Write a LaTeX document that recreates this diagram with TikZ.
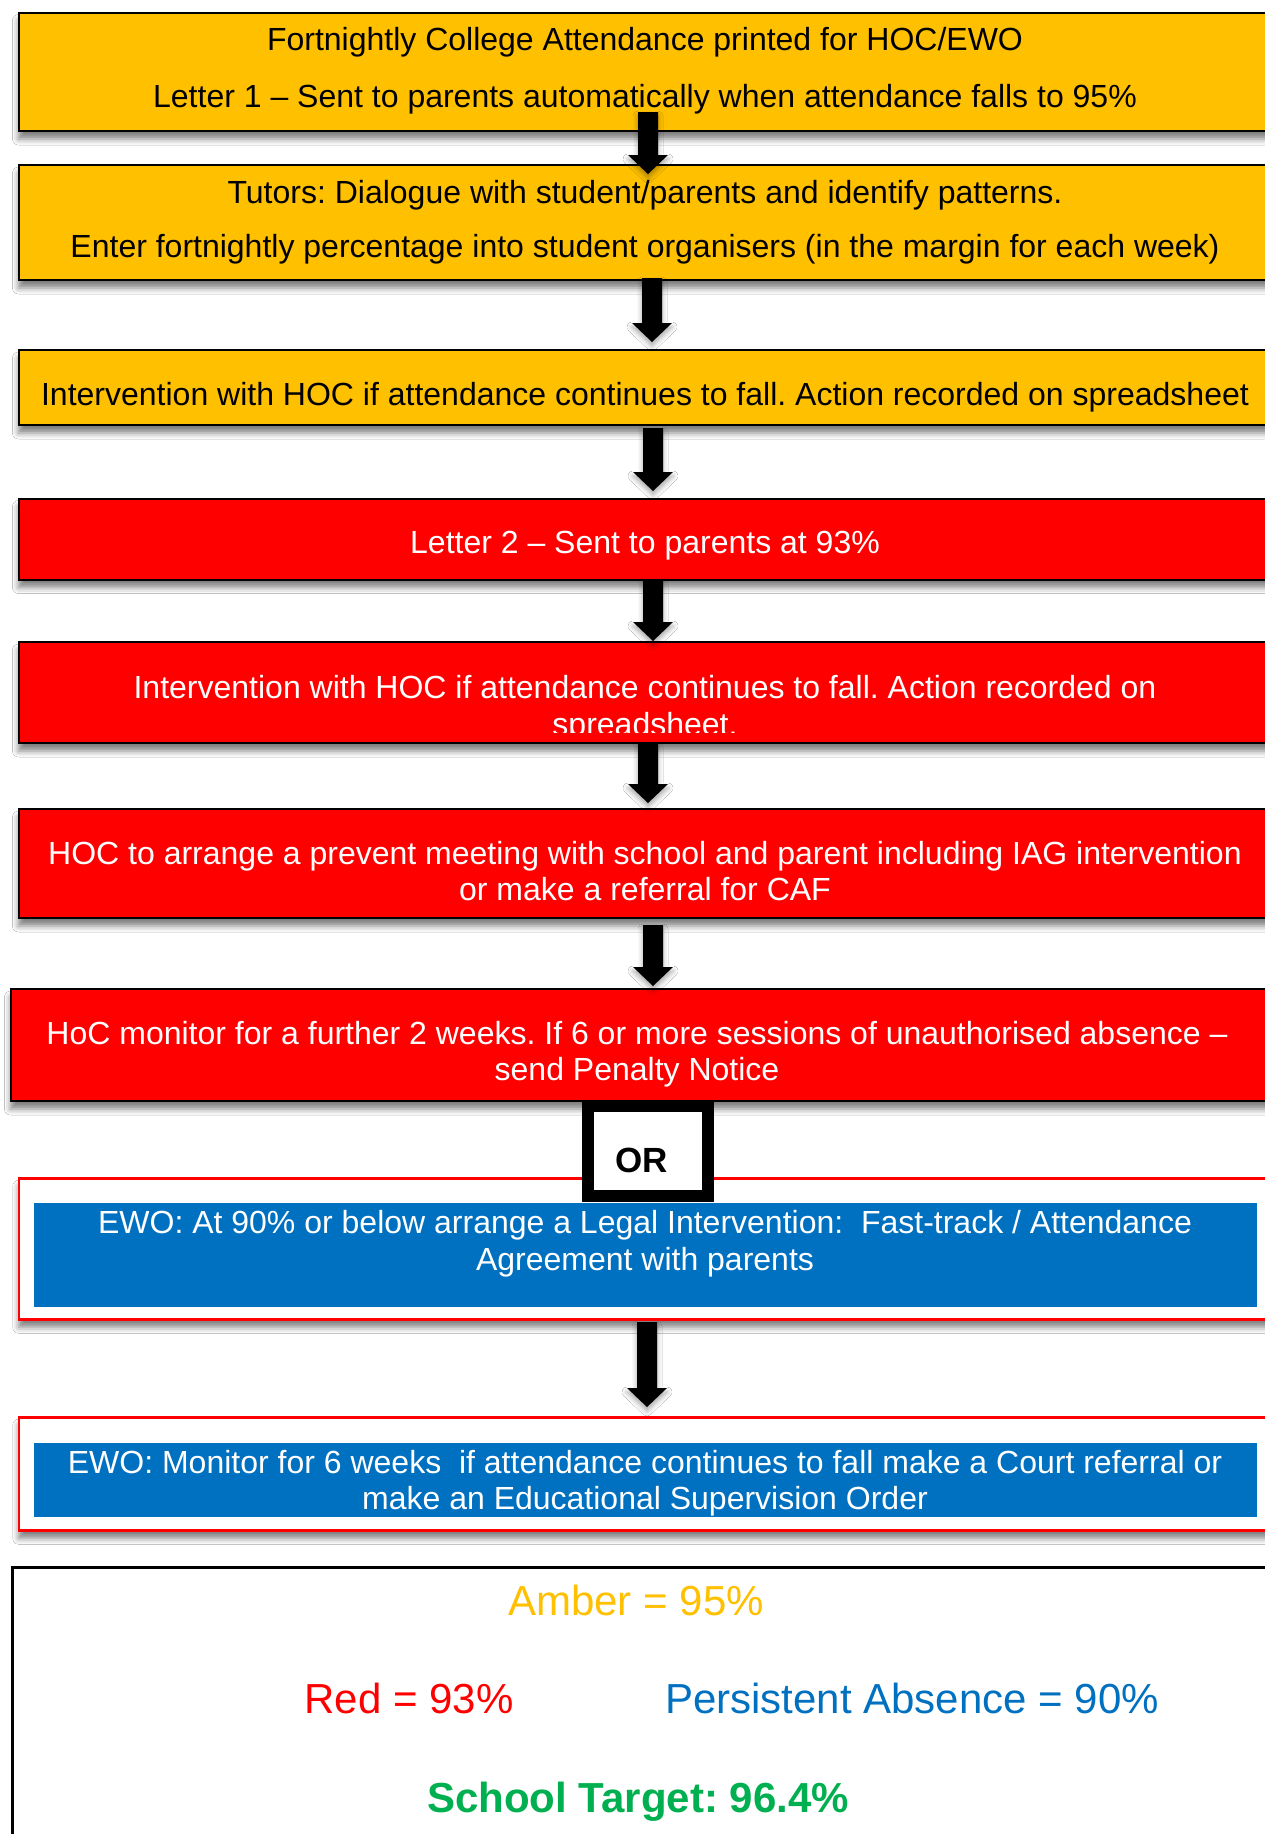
\documentclass[tikz,border=0pt]{standalone}
\usepackage{fontspec}
\setmainfont{Liberation Sans}
\usetikzlibrary{calc,shadows.blur}
\definecolor{amber}{HTML}{FFC000}
\definecolor{redbox}{HTML}{FF0000}
\definecolor{ewoblue}{HTML}{0070C0}
\definecolor{tgreen}{HTML}{00B050}
\newcommand\flowarrow[2]{%
  \fill[black, arrowshadow] ($(#1)+(-10,0)$) -- ($(#1)+(10,0)$) -- ($(#2)+(10,-19)$) -- ($(#2)+(20,-19)$) -- (#2) -- ($(#2)+(-20,-19)$) -- ($(#2)+(-10,-19)$) -- cycle;}
\begin{document}
\frenchspacing
\begin{tikzpicture}[x=1pt,y=-1pt,
  boxshadow/.style={blur shadow={shadow xshift=0pt, shadow yshift=-8pt, shadow blur radius=6pt, shadow opacity=50}},
  arrowshadow/.style={blur shadow={shadow xshift=0pt, shadow yshift=-4pt, shadow blur radius=5pt, shadow opacity=35}},
  flowbox/.style={rectangle, draw=black, line width=2pt, anchor=north west, inner sep=0pt, minimum width=1262pt, boxshadow},
  amberbox/.style={flowbox, fill=amber},
  redflow/.style={flowbox, fill=redbox},
  ewoframe/.style={rectangle, draw=redbox, line width=2.5pt, fill=white, anchor=north west, inner sep=0pt, minimum width=1262pt, boxshadow},
  ewofill/.style={rectangle, fill=ewoblue, anchor=north west, inner sep=0pt, minimum width=1223pt},
  bodytxt/.style={anchor=base, inner sep=0pt, font=\fontsize{32}{36.8}\selectfont},
  darktxt/.style={bodytxt, text=black},
  lighttxt/.style={bodytxt, text=white},
  legendtxt/.style={anchor=base, inner sep=0pt, font=\fontsize{42}{48}\selectfont},
  orbox/.style={rectangle, draw=black, line width=12pt, fill=white, inner sep=0pt, minimum width=120pt, minimum height=90pt},
]
\useasboundingbox (0,0) rectangle (1265,1834);
\clip (0,0) rectangle (1265,1834);
\fill[white] (0,0) rectangle (1265,1834);

% boxes
\node[amberbox, minimum height=118.5pt] (b1) at (17.5,11.5) {};
\node[amberbox, minimum height=115pt] (b2) at (17.5,164) {};
\node[amberbox, minimum height=75pt] (b3) at (17.5,349) {};
\node[redflow, minimum height=81pt] (b4) at (17.5,497.5) {};
\node[redflow, minimum height=101pt] (b5) at (17.5,641) {};
\node[redflow, minimum height=109pt] (b6) at (17.5,808) {};
\node[redflow, minimum height=112pt, minimum width=1270pt] (b7) at (9.5,988) {};
\node[ewoframe, minimum height=141pt] (b8) at (17.5,1177) {};
\node[ewofill, minimum height=104pt] (b8in) at (34,1203) {};
\node[ewoframe, minimum height=113pt] (b9) at (17.5,1416) {};
\node[ewofill, minimum height=74pt] (b9in) at (34,1443) {};
\node[rectangle, draw=black, line width=3pt, anchor=north west, minimum width=1270pt, minimum height=290pt] (legend) at (10.5,1565.5) {};

% texts
\node[darktxt] (t1a) at (645,50) {Fortnightly College Attendance printed for HOC/EWO};
\node[darktxt] (t1b) at (645,107) {Letter 1 – Sent to parents automatically when attendance falls to 95\%};
\node[darktxt] (t2a) at (645,203) {Tutors: Dialogue with student/parents and identify patterns.};
\node[darktxt] (t2b) at (645,257) {Enter fortnightly percentage into student organisers (in the margin for each week)};
\node[darktxt] (t3) at (645,405) {Intervention with HOC if attendance continues to fall. Action recorded on spreadsheet};
\node[lighttxt] (t4) at (645,553) {Letter 2 – Sent to parents at 93\%};
\node[lighttxt] (t5a) at (645,698) {Intervention with HOC if attendance continues to fall. Action recorded on};
\begin{scope}
\clip (17.5,641) rectangle (1280,732);
\node[lighttxt] (t5b) at (645,735) {spreadsheet.};
\end{scope}
\node[lighttxt] (t6a) at (645,864) {HOC to arrange a prevent meeting with school and parent including IAG intervention};
\node[lighttxt] (t6b) at (645,900) {or make a referral for CAF};
\node[lighttxt] (t7a) at (637,1044) {HoC monitor for a further 2 weeks. If 6 or more sessions of unauthorised absence –};
\node[lighttxt] (t7b) at (637,1080) {send Penalty Notice};
\node[lighttxt] (t8a) at (645,1233) {EWO: At 90\% or below arrange a Legal Intervention:\ \ Fast-track / Attendance};
\node[lighttxt] (t8b) at (645,1270) {Agreement with parents};
\node[lighttxt] (t9a) at (645,1473) {EWO: Monitor for 6 weeks\ \ if attendance continues to fall make a Court referral or};
\node[lighttxt] (t9b) at (645,1509) {make an Educational Supervision Order};

% OR box
\node[orbox] (orb) at (648,1151) {};
\node[anchor=base, inner sep=0pt, font=\fontsize{35}{40}\selectfont\bfseries] (ortxt) at (641.5,1172) {OR};

% legend texts
\node[legendtxt, text=amber] (lamber) at (636,1615) {Amber = 95\%};
\node[legendtxt, text=redbox] (lred) at (409,1713) {Red = 93\%};
\node[legendtxt, text=ewoblue] (lpa) at (912,1713) {Persistent Absence = 90\%};
\node[legendtxt, text=tgreen, font=\fontsize{42}{48}\selectfont\bfseries] (ltarget) at (638,1812) {School Target: 96.4\%};

% arrows
\coordinate (a1s) at (648,112);  \coordinate (a1e) at (648,174);
\coordinate (a2s) at (652,278);  \coordinate (a2e) at (652,342);
\coordinate (a3s) at (653,428);  \coordinate (a3e) at (653,491);
\coordinate (a4s) at (653,579);  \coordinate (a4e) at (653,641);
\coordinate (a5s) at (648,742);  \coordinate (a5e) at (648,803);
\coordinate (a6s) at (653,925);  \coordinate (a6e) at (653,986);
\coordinate (a7s) at (647,1322); \coordinate (a7e) at (647,1407);
\flowarrow{a1s}{a1e}
\flowarrow{a2s}{a2e}
\flowarrow{a3s}{a3e}
\flowarrow{a4s}{a4e}
\flowarrow{a5s}{a5e}
\flowarrow{a6s}{a6e}
\flowarrow{a7s}{a7e}
\end{tikzpicture}
\end{document}
